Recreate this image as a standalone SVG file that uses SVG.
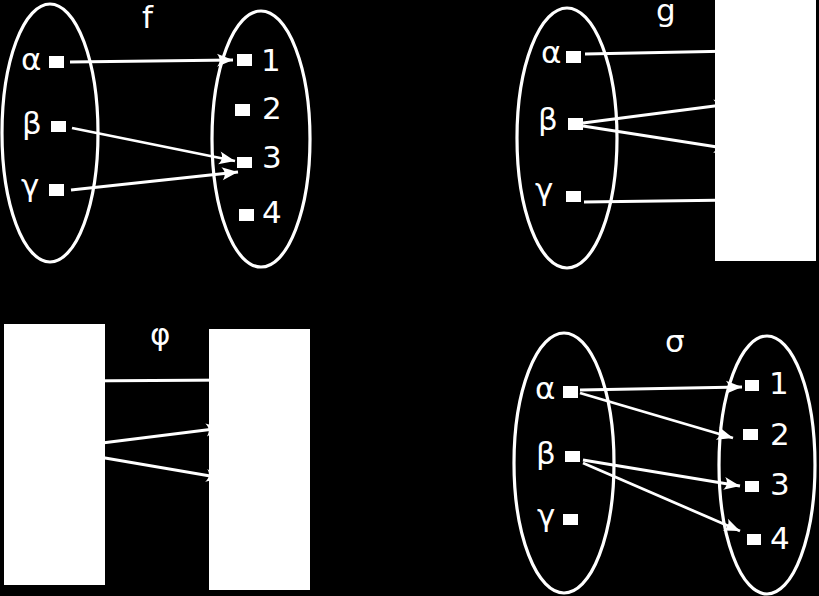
<svg xmlns="http://www.w3.org/2000/svg" width="819" height="596" viewBox="0 0 819 596">
<style>
.bg{fill:#000}
.set{fill:none;stroke:#fff;stroke-width:3.2}
.pt{fill:#fff}
.lbl{fill:#fff;font-family:"DejaVu Sans",sans-serif;font-size:31px}
.cn{fill:none;stroke:#fff;stroke-width:2.8;marker-end:url(#ah)}
.cover{fill:#fff}
</style>
<defs>
<marker id="ah" markerUnits="userSpaceOnUse" markerWidth="20" markerHeight="16" viewBox="-17 -8 20 16" refX="0" refY="0" orient="auto" overflow="visible">
<path d="M0,0 L-16,-6.5 C-12.5,-2.5 -12.5,2.5 -16,6.5 Z" fill="#fff"/>
</marker>
</defs>
<rect class="bg" x="0" y="0" width="819" height="596"/>

<g id="connectors">
<line class="cn" x1="70" y1="62" x2="233" y2="60"/>
<line class="cn" x1="72" y1="128" x2="235" y2="161"/>
<line class="cn" x1="71" y1="190" x2="238" y2="172"/>
<line class="cn" x1="585" y1="54" x2="735" y2="51"/>
<line class="cn" x1="583" y1="123" x2="730" y2="104"/>
<line class="cn" x1="583" y1="126" x2="730" y2="149"/>
<line class="cn" x1="584" y1="202" x2="735" y2="200"/>
<line class="cn" x1="70" y1="381" x2="235" y2="380"/>
<line class="cn" x1="70" y1="447" x2="222" y2="428"/>
<line class="cn" x1="70" y1="452" x2="222" y2="478"/>
<line class="cn" x1="580" y1="390" x2="742" y2="387"/>
<line class="cn" x1="580" y1="393" x2="733" y2="438"/>
<line class="cn" x1="583" y1="460" x2="740" y2="486"/>
<line class="cn" x1="583" y1="463" x2="740" y2="531"/>
</g>

<g id="f-label"><text class="lbl" x="142" y="28">f</text></g>
<g id="f-domain">
<ellipse class="set" cx="50" cy="133" rx="48" ry="129"/>
<text class="lbl" x="21" y="70">α</text><rect class="pt" x="49" y="56" width="15" height="12"/>
<text class="lbl" x="22" y="134">β</text><rect class="pt" x="51" y="121" width="15" height="11"/>
<text class="lbl" x="21" y="196">γ</text><rect class="pt" x="49" y="184" width="15" height="12"/>
</g>
<g id="f-codomain">
<ellipse class="set" cx="261" cy="139" rx="49" ry="128"/>
<rect class="pt" x="237" y="54" width="15" height="12"/><text class="lbl" x="261" y="71">1</text>
<rect class="pt" x="235" y="104" width="15" height="12"/><text class="lbl" x="262" y="119">2</text>
<rect class="pt" x="237" y="157" width="15" height="11"/><text class="lbl" x="262" y="168">3</text>
<rect class="pt" x="239" y="209" width="15" height="12"/><text class="lbl" x="262" y="223">4</text>
</g>

<g id="g-label"><text class="lbl" x="656" y="21">g</text></g>
<g id="g-domain">
<ellipse class="set" cx="567" cy="138" rx="50" ry="130"/>
<text class="lbl" x="541" y="63">α</text><rect class="pt" x="566" y="51" width="15" height="12"/>
<text class="lbl" x="538" y="130">β</text><rect class="pt" x="568" y="118" width="15" height="12"/>
<text class="lbl" x="535" y="200">γ</text><rect class="pt" x="566" y="191" width="15" height="11"/>
</g>
<g id="g-codomain"><rect class="cover" x="715" y="0" width="101" height="261"/></g>

<g id="phi-label"><text class="lbl" x="150" y="345">φ</text></g>
<g id="phi-domain"><rect class="cover" x="4" y="324" width="101" height="261"/></g>
<g id="phi-codomain"><rect class="cover" x="209" y="329" width="101" height="261"/></g>

<g id="sigma-label"><text class="lbl" x="665" y="352">σ</text></g>
<g id="sigma-domain">
<ellipse class="set" cx="564" cy="463" rx="50" ry="130"/>
<text class="lbl" x="535" y="399">α</text><rect class="pt" x="563" y="386" width="15" height="12"/>
<text class="lbl" x="536" y="464">β</text><rect class="pt" x="565" y="451" width="15" height="11"/>
<text class="lbl" x="537" y="526">γ</text><rect class="pt" x="563" y="514" width="15" height="11"/>
</g>
<g id="sigma-codomain">
<ellipse class="set" cx="767" cy="465" rx="48" ry="129"/>
<rect class="pt" x="745" y="380" width="14" height="11"/><text class="lbl" x="769" y="394">1</text>
<rect class="pt" x="743" y="429" width="15" height="11"/><text class="lbl" x="770" y="445">2</text>
<rect class="pt" x="745" y="481" width="14" height="11"/><text class="lbl" x="770" y="495">3</text>
<rect class="pt" x="747" y="534" width="14" height="11"/><text class="lbl" x="770" y="549">4</text>
</g>
</svg>
